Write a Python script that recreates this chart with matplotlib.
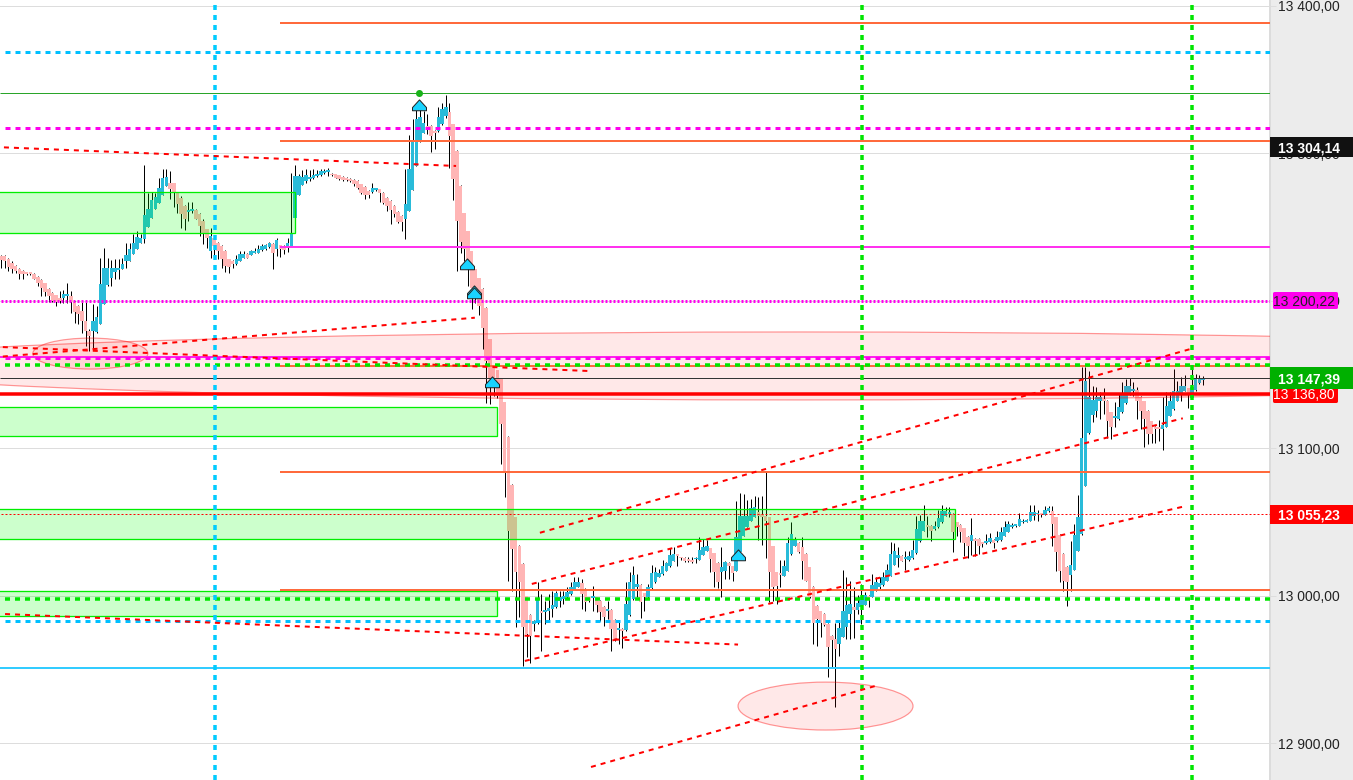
##--------------------------PREAMBLE------------------------##
import numpy as np
import matplotlib
matplotlib.use('Agg')
import matplotlib.pyplot as plt
from matplotlib.patches import Rectangle, Ellipse
from matplotlib.path import Path

plt.rcParams['font.family'] = ['Liberation Sans', 'DejaVu Sans']
plt.rcParams['lines.scale_dashes'] = False

##--------------------------DATA------------------------------##
# candles, all prices relative to 13000
price_base = 13000
bar_open = np.array([
    230.2,230.2,228,225.7,223.4,221.6,220,218.9,218.9,218.2,
    216.2,213.9,211.7,208.1,205.4,203.6,202,201.5,203.1,203.1,
    199,196.3,192.9,186.2,179.4,179.4,178.7,183.9,197.4,210.3,
    215.5,219.4,220.7,221.6,226.6,226.6,231.4,234.7,239.3,241.5,
    249.7,256.2,261.9,266.4,271.4,277.7,279.9,279.5,273.2,269.8,
    264.1,260,260.7,261.4,258.5,254,248.3,233.6,242.6,239.3,
    237,233.6,228,226.8,224.6,226.8,229.1,231.4,230.9,232.5,
    232.5,234.3,234.7,236.3,238.1,234.7,237.5,237,235.9,237,
    256.2,271.4,278.6,281.1,282.7,283.3,284.5,285.1,286.7,287.2,
    286,285.6,284.9,283.8,283.1,282.7,281.7,281.1,278.8,277.2,
    274.3,273.6,275,275.4,273.2,269.8,267.5,264.1,260,257.3,
    255.1,260.7,275,291.2,307.5,313.8,318.4,318.4,315,315,
    319.5,325.1,328.1,319.5,301.4,277.7,259.1,246.9,233.4,221.2,
    215.1,208.1,195.2,173.7,155.6,152.7,146.6,131.1,107.8,75.2,
    53.1,33.9,21.5,-0.5,-12.9,-19.2,-18.1,-10.6,-11.3,-10.6,
    -9,-7.9,-3.4,-2.3,-1.1,1.1,4.5,6.1,8.4,4.5,
    -1.1,-1.6,-1.1,-3.4,-7.5,-10.6,-9.7,-16.5,-23.1,-22.6,
    -23.3,-12.9,-2.3,6.1,7.4,1.6,-1.1,5.2,9,12.9,
    14.7,16.9,19.9,23.7,27.3,26,25.5,24.9,24.2,24.6,
    24.4,27.8,30.5,32.1,28.7,22.1,15.8,16.9,22.1,19.9,
    16.9,29.4,40.7,46.8,50.8,53.6,56.5,55.4,54.2,53.1,
    33.4,15.8,14.5,13.6,16.9,28.2,33.9,35.9,32.8,28.2,
    19.2,6.1,-6.8,-10.6,-12.4,-19.2,-27.1,-29.4,-32.8,-27.8,
    -21.5,-12.4,-7.9,-9.7,-7.5,-6.1,0,-0.7,3.8,6.1,
    7.2,10.2,13.6,21,25.5,27.1,24.9,24.2,25.5,28.7,
    36.8,44.1,47.9,47.4,45.2,46.3,49.7,54.2,55.6,55.4,
    49.7,48.1,45.6,40,37.3,38.4,38.4,36.1,35.5,36.1,
    38,36.8,37.7,40.7,43.4,46.3,47.2,47.4,49.7,50.2,
    50.8,54.2,55.1,55.4,54.9,57.2,57.6,53.1,41.1,28.2,
    19.7,14.2,17.6,30.5,41.8,74.6,110.1,122.7,125.4,131.7,
    132.7,132.2,124.3,120.7,119.8,124.3,130.6,136.7,139,139.4,
    134.9,131.8,125.4,118.2,114.6,113.7,113,114.6,122,126.6,
    132.2,137.2,139,140.6,134,139.4,143.9,146]) + price_base
bar_close = np.array([
    227.5,226.8,223,221.2,220,217.8,217.8,218.2,218.2,214.9,
    212.1,208.7,205.8,203.1,199.7,199,199.7,204.7,204.2,199,
    192.3,190.7,186.2,179.4,176,186.2,189.1,211,222.3,222.3,
    222.3,222.3,221.4,224.6,230.7,235.2,238.8,243.3,242.6,257.8,
    261.9,268.2,270.4,276.6,283.1,284,275.4,273.2,265.3,258.5,
    255.1,261.4,261.9,255.5,250.6,246,242.6,243.8,237,233.6,
    228,223.4,223,224.6,228,231.4,231.4,229.1,233.6,233.6,
    234.7,237,237.5,239.3,232,241.1,234.7,234.3,239.3,245.6,
    284.5,284.5,284,284.9,284,284.9,285.6,287.9,287.9,287.6,
    284.9,283.3,282.2,281.5,281.5,281.1,278.8,276.6,273.2,271.4,
    271.4,276.1,275.9,273.2,265.9,264.1,261.4,258.5,253.3,253.3,
    265.3,289,308.2,323.3,324.7,320.6,317.2,311.6,313.8,324.7,
    330.1,331.5,311.6,282.2,254,240,234.7,221.2,208.7,205.4,
    196.3,181.6,159,146.6,142.1,135.3,116.6,84.7,43.6,31.6,
    15.8,9,-21.5,-26,-27.1,-17,-2.7,-12,-9.7,-8.4,
    -6.1,1.6,-0.7,0,2.2,5.6,9,9.5,1.1,-4.5,
    -3.4,0,-6.1,-11.3,-14.7,-9.7,-22.6,-29.4,-22,-23.7,
    -5.7,9.5,14.2,7.9,-4.5,-1.1,6.1,15.6,15.8,15.6,
    20.3,22.4,27.8,28.2,26.7,25.3,23.7,23.3,23.1,25.1,
    31.2,33.2,33.7,24.9,15.8,9,19.2,23,20.3,15.1,
    39.5,54,54,54.2,59.2,59.9,54.2,53.1,50.8,15.8,
    6.1,6.8,14,20.3,35.7,41.8,37.7,29.4,23.7,10.2,
    -1.1,-18.8,-15.8,-18.8,-19.7,-35,-30.1,-36.1,-22.2,-10.6,
    -6.1,-5.7,-9.7,-5.2,-1.1,0.7,-2.3,7.4,9,8.6,
    12.9,17.6,28.2,30.5,27.8,23.7,26,27.1,30.9,45.2,
    50.8,50.8,46.8,43.6,47.4,52.4,57.6,57.6,56,42.9,
    46.8,42.9,35.5,33.9,41.4,37.3,33.9,35,37.3,39.1,
    35.5,39.5,43.4,46.3,48.6,48.1,47.7,52,50.4,50.8,
    56.7,56.7,55.6,54.9,58.3,59.4,48.6,29.4,17,10.2,
    9,21,41.4,53.1,106.9,145.8,134.5,132.7,134.5,134.5,
    132.2,118.2,114.6,121.1,128.1,137.4,142.4,142.4,139.4,131.8,
    125.4,119.8,109.6,109.6,113,113,115.9,128.8,131.8,139,
    139,142.4,142.4,136.7,141.7,147.3,147.3,147.39]) + price_base
bar_high = np.array([
    230.7,230.7,229,226.8,223.9,222.3,220.5,219.4,219.4,218.7,
    216.7,214.4,212.1,208.5,205.8,204,206.5,207.2,211.7,206.3,
    199.5,196.8,199.7,200.4,180.5,197.4,196.3,229.1,235.9,229.1,
    227.5,228.4,228,229.1,239.3,239.3,244.9,247.2,244.9,291.7,
    273.2,273.6,273.2,283.3,289.4,289.4,287.9,279.9,273.6,270.9,
    264.6,266.8,266.8,261.9,259.6,255.1,248.8,249.4,243.1,239.7,
    237.5,234.1,228.4,227.3,230.7,233.6,233.6,232.5,234.3,235.9,
    237.5,238.1,238.1,239.7,239.3,242.6,237.9,237.5,242.6,286.7,
    291.7,285.6,288.5,289,288.5,289,288.5,289,289,289.9,
    286.5,286,285.4,284.2,283.6,283.1,282.2,281.5,279.3,277.7,
    274.7,279.5,276.3,275.9,273.6,270.2,268,264.6,260.5,257.8,
    289,312,323.3,329.2,329.7,328.5,326.7,318.8,315.4,331.5,
    333.7,339.2,333.7,319.9,301.9,278.1,259.6,247.4,233.8,221.6,
    215.5,208.5,195.6,174.2,156.1,153.2,147,131.5,108.2,75.7,
    53.6,34.3,21.9,0,-12.4,-16.5,9,1.1,-3.4,1.1,
    3.4,3.4,3.4,3.4,6.1,9,12.4,12.4,11.3,5,
    -0.7,6.8,-0.7,-3,-7,-3.4,-9,-16,-17,-22.2,
    9,15.8,20.3,14.7,7.9,2,7.9,21,19.2,18.1,
    24.4,22.8,32.3,32.8,27.8,26.4,26,26,26,26,
    40,38.4,37.7,32.5,29.1,22.6,33.2,23.7,22.6,20.3,
    64.4,69.4,68.9,64.9,65.5,67.8,67.1,67.8,84.7,53.6,
    33.9,16.3,24.2,24.2,39.5,49.7,40,36.4,40,28.7,
    19.7,6.6,-6.3,-10.2,-12,-18.8,-26.7,-18.8,-16.3,17.6,
    12.4,10.2,5.6,0.7,7.9,2.2,0.4,14.7,12.4,12.4,
    15.8,21.5,36.6,35.5,32.8,27.6,30.5,30.5,37.7,54.2,
    54.9,61.7,54.2,47.9,50.8,58.1,61.7,59.9,59.9,55.8,
    50.2,48.6,46.1,40.4,52.4,38.9,38.9,36.6,41.8,42.2,
    38.4,44.1,46.3,50.4,50.4,49,48.1,56,52,52,
    61.7,61.7,58.1,55.8,61,61,61,53.6,41.6,28.7,
    20.1,37.3,48.6,68.5,155.3,154.8,152.5,142.4,141.7,137.9,
    140.6,132.7,124.7,131.1,136.7,144.6,146.9,147.6,144.6,141.7,
    135.4,132.2,125.9,118.6,115,119.1,134.9,137.9,137.9,153.7,
    145.8,148.5,149.8,141,153.7,150.3,149.8,149.1]) + price_base
bar_low = np.array([
    222.3,222.3,220,218.9,218.9,214.9,214.9,217.6,217.6,214.4,
    209.9,203.1,203.1,199,199,196.3,198.6,198.1,198.1,191.8,
    184.6,183.9,178.2,169.2,165.8,166.9,178.2,183.9,197.4,209.9,
    209.9,214.9,214.9,221.2,222.3,226.6,231.4,234.7,239.3,239.3,
    249.7,256.2,261.9,266.4,271.4,277.7,268.6,263.7,259.6,249.4,
    247.8,254,259.6,255.1,243.8,238.1,235.9,229.1,229.1,228,
    222.3,219.4,218.9,222.3,224.3,226.6,228.9,228.9,230.7,232,
    232,233.8,234.3,235.9,221.6,230.2,229.8,231.4,232.9,237,
    256.2,271.4,278.6,279.9,281.1,282.2,284,284.5,285.6,284.5,
    284.5,282.9,281.7,281.1,281.1,280.6,277.7,275.4,272,269.1,
    269.8,273.2,274.3,266.8,265.3,260.7,252.1,256.9,252.4,247.2,
    241.5,260.7,275,291.2,307.5,313.4,312.7,300.7,302.5,314.5,
    319,324,290.1,268.2,220,232.5,226.8,209.9,194.1,198.6,
    190,166.9,130.8,129.7,135.3,134.2,89.3,67.1,10.2,3.4,
    -21,-14.7,-47.5,-41.8,-45.9,-23.7,-19.2,-37.8,-19.2,-18.1,
    -14.7,-8.4,-7.9,-5.7,-1.6,0.7,4.1,5.6,-9,-10.2,
    -4.5,-10.2,-11.3,-17,-20.4,-15.8,-37.8,-30.5,-32.8,-35.5,
    -23.7,-13.6,-2.7,-1.1,-15.4,-10.6,-1.6,4.7,8.6,12.4,
    14.2,16.5,19.4,23.3,19.9,24.2,22.6,22.6,21.9,21.9,
    24,27.3,30,15.8,5.6,5.2,-0.7,11.3,11.3,9.7,
    16.5,28.9,40.2,46.3,50.4,53.1,37.7,34.6,25.5,-4.5,
    -3.4,-5.7,6.1,13.1,16.5,27.8,33.4,28.9,11.3,9.7,
    -1.6,-32.8,-33.9,-27.8,-20.4,-55.4,-48.6,-75.7,-40.7,-28.2,
    -29.4,-29.4,-28.7,-12.4,-19.2,-6.6,-7.5,-1.1,3.4,3.8,
    6.8,9.7,13.1,20.6,19.2,23.3,17.4,23.7,25.1,28.2,
    36.4,43.6,40,37.3,44.5,45.9,49.3,53.8,53.1,29.4,
    40.7,36.1,27.1,25.5,27.8,27.1,28.2,32.8,35,35.7,
    32.3,36.4,37.3,40.2,42.9,45.9,46.8,47,49.3,49.7,
    50.4,51.3,50.8,53.6,54.5,56.7,33.9,17,9,3.4,
    -6.8,3.4,17.2,30,41.4,74.1,109.6,117.5,120.9,119.8,
    123.2,106.9,106.2,114.6,119.3,123.8,130.2,136.3,135.6,119.8,
    113,100.6,102.8,103.3,103.3,105.1,98.8,114.1,121.6,126.1,
    131.8,131.8,138.5,127.2,133.6,139,143.5,143]) + price_base

tick_prices = [12900, 13000, 13100, 13200, 13300, 13400]

# levels
orange_levels = [13388.2, 13308.2, 13155.9, 13083.8, 13003.8]
magenta_level = 13236.3
magenta_dashed = [13316.7, 13161.4]
magenta_solid = 13161.8
magenta_dotted = 13199.5
green_dashed = [13156.3, 12997.7]
blue_dashed = [13368.6, 12982.6]
peak_level = 13340.8
last_price = 13147.39
red_level = 13136.8
red_dotted = 13055.23
blue_level = 12951.1

# vertical markers, in bars
cyan_vline = 58.1
green_vlines = [234.3, 324.1]

# zones: right bar, low, high
zone_right = [80.0, 134.9, 259.5, 134.9]
zone_low = [13245.8, 13108.2, 13038.2, 12986.2]
zone_high = [13273.6, 13128.1, 13058.5, 13002.9]

# ellipses: centre bar, centre price, width in bars, height in price
ellipse_x = [217.4, 24.3, 224.3]
ellipse_y = [13155.7, 13164.1, 12925.1]
ellipse_w = [524.5, 31.3, 47.6]
ellipse_h = [46.1, 21.0, 32.5]

# trend lines
trend_x0 = [0.8, 0.5, 0.5, 146.6, 144.4, 142.5, 160.5, 1.1]
trend_x1 = [123.8, 159.7, 128.9, 324.3, 321.5, 322.6, 237.8, 200.5]
trend_y0 = [13303.9, 13168.5, 13162.1, 13042.6, 13007.9, 12955.7, 12883.8, 12987.5]
trend_y1 = [13291.3, 13152.3, 13188.4, 13167.7, 13120.2, 13060.9, 12938.7, 12966.8]

# signal arrows
arrow_bar = [113.7, 126.7, 128.7, 128.7, 133.6, 200.4]
arrow_price = [13332.3, 13224.7, 13206.4, 13205.2, 13144.8, 13027.3]
dot_bar = [113.7]
dot_price = [13340.8]

# price badges on the right
black_badge = 13304.14
magenta_badge = 13200.22
green_badge = 13147.39
red_badge = 13136.80
red_rect_badge = 13055.23

##--------------------------SETUP------------------------------##
W, H = 1353, 780
px = 0.72  # one pixel in points at dpi 100
panel_px = 1270
bar_px = 3.676
price_per_px = 0.678
zero_px = 595.6  # pixel row of 13000
xlim = (-1 / bar_px, (panel_px - 1) / bar_px)
ylim = (13000 - (H - zero_px) * price_per_px, 13000 + zero_px * price_per_px)

fig = plt.figure(figsize=(W / 100, H / 100), dpi=100, facecolor='#ececec')
ax = fig.add_axes([0, 0, panel_px / W, 1], facecolor='white')
ax.set_xlim(xlim)
ax.set_ylim(ylim)
ax.set_xticks([])
for side in ['top', 'left', 'bottom']:
    ax.spines[side].set_visible(False)
ax.spines['right'].set_color('#dcdcdc')
ax.spines['right'].set_linewidth(2 * px)

ax.yaxis.tick_right()
ax.set_yticks(tick_prices)
ax.set_yticklabels([f"{p:,}".replace(",", " ") + ",00" for p in tick_prices])
ax.tick_params(axis='y', length=6 * px, width=1 * px, color='#dddddd', pad=2 * px,
               labelsize=10, labelcolor='#222222')
ax.grid(axis='y', color='#dddddd', lw=1 * px)
ax.set_axisbelow(True)

##--------------------------CANDLES------------------------------##
bars = np.arange(len(bar_open))
up = bar_close >= bar_open
colours = np.where(up, '#29bbd9', '#ffb5b5')
body_low = np.minimum(bar_open, bar_close)
body_height = np.maximum(np.abs(bar_close - bar_open), 1.2)

ax.vlines(bars, bar_low, bar_high, color='black', lw=1 * px, zorder=2)
ax.bar(bars, body_height, bottom=body_low, width=3.5 / bar_px, color=colours, lw=0, zorder=3)

##--------------------------ZONES------------------------------##
for right, low, high in zip(zone_right, zone_low, zone_high):
    ax.add_patch(Rectangle((xlim[0] - 2, low), right - xlim[0] + 2, high - low,
                           facecolor=(0, 1, 0, 0.2), edgecolor='#00ee00', lw=1.3 * px, zorder=4))

for x, y, w, h in zip(ellipse_x, ellipse_y, ellipse_w, ellipse_h):
    ax.add_patch(Ellipse((x, y), w, h, facecolor=(1, 0, 0, 0.09), edgecolor=(1, 0, 0, 0.4),
                         lw=1.2 * px, zorder=4))

##--------------------------LEVELS------------------------------##
thick_dash = (0, (5 * px, 5 * px))
dot_dash = (0, (2 * px, 2 * px))

ax.hlines(orange_levels, 75.9, xlim[1], color='#ff6a3c', lw=2 * px, zorder=5)
ax.hlines(magenta_level, 75.9, xlim[1], color='#ff33ee', lw=2 * px, zorder=5)
ax.hlines(magenta_solid, xlim[0], xlim[1], color='#ff22ee', lw=2 * px, zorder=5)
ax.hlines(peak_level, xlim[0], xlim[1], color='#2aa52a', lw=1 * px, zorder=5)
ax.hlines(last_price, xlim[0], xlim[1], color='#333333', lw=1 * px, zorder=5)
ax.hlines(red_level, xlim[0], xlim[1], color='#ff0000', lw=3.5 * px, zorder=5)
ax.hlines(blue_level, xlim[0], xlim[1], color='#33ccff', lw=2 * px, zorder=5)

for level in magenta_dashed:
    ax.plot([1.1, xlim[1]], [level, level], color='#ff00ee', lw=3 * px, ls=thick_dash, zorder=6)
for level in green_dashed:
    ax.plot([1.1, xlim[1]], [level, level], color='#00e600', lw=3.5 * px, ls=thick_dash, zorder=6)
for level in blue_dashed:
    ax.plot([1.1, xlim[1]], [level, level], color='#00bfff', lw=3 * px, ls=thick_dash, zorder=6)
ax.plot([0, xlim[1]], [magenta_dotted, magenta_dotted], color='#ff00ee', lw=3 * px, ls=dot_dash, zorder=6)
ax.plot([0, xlim[1]], [red_dotted, red_dotted], color='#ff0000', lw=1 * px, ls=dot_dash, zorder=6)

ax.plot([cyan_vline, cyan_vline], ylim, color='#00ccff', lw=3.5 * px, ls=thick_dash, zorder=7)
for x in green_vlines:
    ax.plot([x, x], ylim, color='#00e600', lw=3.5 * px, ls=thick_dash, zorder=7)

##--------------------------TREND LINES------------------------------##
for x0, x1, y0, y1 in zip(trend_x0, trend_x1, trend_y0, trend_y1):
    ax.plot([x0, x1], [y0, y1], color='#ff0000', lw=2 * px, ls=thick_dash, zorder=8)

##--------------------------ARROWS------------------------------##
house = Path([(-1, -0.75), (-1, -0.3), (0, 0.8), (1, -0.3), (1, -0.75), (-1, -0.75)], closed=True)
ax.scatter(arrow_bar, arrow_price, marker=house, s=(14 * px) ** 2, facecolor='#19d3ff',
           edgecolor='#222222', lw=1 * px, zorder=9)
ax.scatter(dot_bar, dot_price, s=(7 * px) ** 2, color='#19b319', lw=0, zorder=9)

##--------------------------BADGES------------------------------##
ax_r = fig.add_axes([panel_px / W, 0, 1 - panel_px / W, 1], facecolor='none')
ax_r.set_xlim(0, W - panel_px)
ax_r.set_ylim(ylim)
ax_r.axis('off')

def badge(value, left, right, height_px, colour, text, text_colour, bold, zorder, text_x=8, rounded=False):
    h = height_px * price_per_px
    lw = 3 * px if rounded else 0
    ax_r.add_patch(Rectangle((left, value - h / 2), right - left, h, facecolor=colour,
                             edgecolor=colour if rounded else 'none', lw=lw,
                             joinstyle='round', zorder=zorder))
    ax_r.text(text_x, value, text, color=text_colour, fontsize=10, va='center_baseline', ha='left',
              fontweight='bold' if bold else 'normal', zorder=zorder)

badge(black_badge, 0, 83, 20, '#111111', '13 304,14', 'white', True, 3)
badge(magenta_badge, 3.5, 65.5, 14, '#ff00ee', '13 200,22', '#222222', False, 3, text_x=3, rounded=True)
badge(red_badge, 3.5, 65.5, 14, '#ff0000', '13 136,80', 'white', False, 3, text_x=3, rounded=True)
badge(green_badge, 0, 83, 22, '#00b000', '13 147,39', 'white', True, 4)
badge(red_rect_badge, 0, 83, 19, '#ff0000', '13 055,23', 'white', True, 3)

plt.savefig('out.png', dpi=100, facecolor=fig.get_facecolor())
